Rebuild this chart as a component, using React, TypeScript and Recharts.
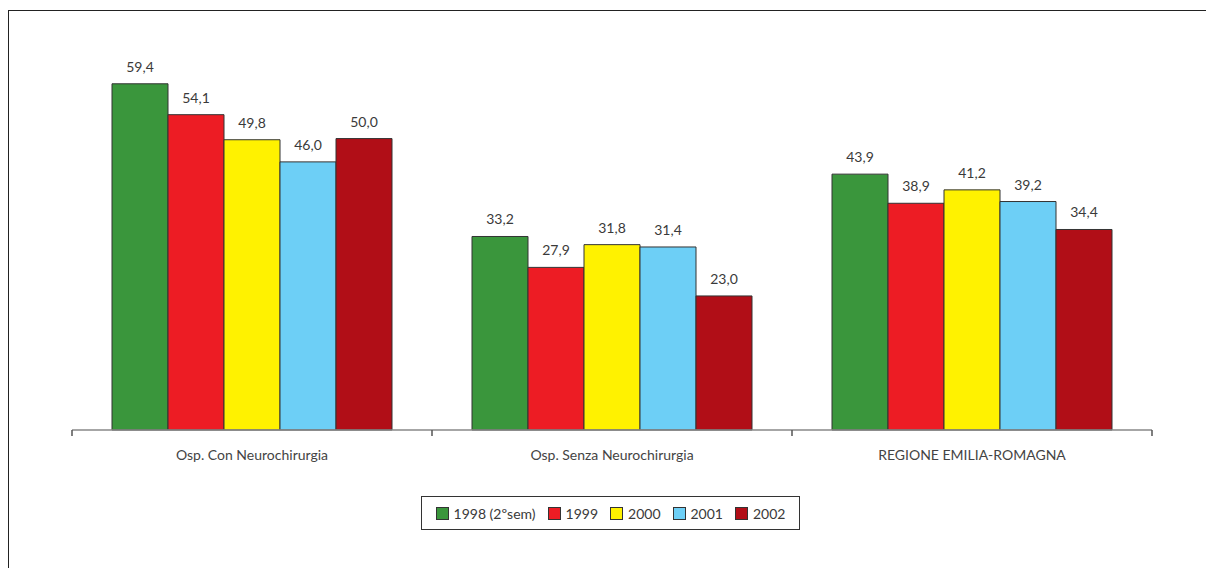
import React from 'react';
import { BarChart, Bar, XAxis, YAxis, LabelList } from 'recharts';

const categories = ['Osp. Con Neurochirurgia', 'Osp. Senza Neurochirurgia', 'REGIONE EMILIA-ROMAGNA'];
const v1998 = [59.4, 33.2, 43.9];
const v1999 = [54.1, 27.9, 38.9];
const v2000 = [49.8, 31.8, 41.2];
const v2001 = [46.0, 31.4, 39.2];
const v2002 = [50.0, 23.0, 34.4];

const seriesKeys = ['y1998', 'y1999', 'y2000', 'y2001', 'y2002'];
const seriesNames = ['1998 (2ºsem)', '1999', '2000', '2001', '2002'];
const seriesColors = ['#3a963c', '#ed1c24', '#fff200', '#6dcff6', '#b10e17'];

const data = categories.map((name, i) => ({
  name,
  y1998: v1998[i],
  y1999: v1999[i],
  y2000: v2000[i],
  y2001: v2001[i],
  y2002: v2002[i],
}));

const FONT = 'Lato, "Open Sans", sans-serif';

const fmt = (v: any) => Number(v).toFixed(1).replace('.', ',');

const Legend = () => (
  <div
    style={{
      position: 'absolute',
      left: 421,
      top: 496,
      width: 379,
      height: 34,
      border: '1px solid #333',
      display: 'flex',
      alignItems: 'center',
      justifyContent: 'center',
      fontFamily: FONT,
      fontSize: 14,
      color: '#3a3a3a',
      boxSizing: 'border-box',
    }}
  >
    {seriesNames.map((n, i) => (
      <div key={n} style={{ display: 'flex', alignItems: 'center', marginRight: i < 4 ? 12 : 0 }}>
        <span
          style={{
            display: 'inline-block',
            width: 13,
            height: 13,
            background: seriesColors[i],
            border: '1px solid #333',
            marginRight: 5,
            boxSizing: 'border-box',
          }}
        />
        <span>{n}</span>
      </div>
    ))}
  </div>
);

export default function App() {
  return (
    <div
      style={{
        position: 'absolute',
        left: 0,
        top: 0,
        width: 1206,
        height: 568,
        overflow: 'hidden',
        background: '#fff',
      }}
    >
      {/* outer frame, open to the right and bottom */}
      <div
        style={{
          position: 'absolute',
          left: 8,
          top: 10,
          width: 1400,
          height: 800,
          border: '1.5px solid #222',
        }}
      />
      <div style={{ position: 'absolute', left: 0, top: 0 }}>
        <BarChart
          width={1206}
          height={568}
          data={data}
          margin={{ top: 22, right: 54, left: 72, bottom: 108 }}
          barCategoryGap={40}
          barGap={0}
        >
          <XAxis
            dataKey="name"
            height={30}
            axisLine={{ stroke: '#888', strokeWidth: 1.5 }}
            tickLine={false}
            tick={{ fill: '#444', fontSize: 14, fontFamily: FONT }}
            tickMargin={14}
            interval={0}
          />
          <YAxis hide domain={[0, 70]} />
          {seriesKeys.map((k, i) => (
            <Bar
              key={k}
              dataKey={k}
              name={seriesNames[i]}
              fill={seriesColors[i]}
              stroke="#333"
              strokeWidth={1}
              isAnimationActive={false}
            >
              <LabelList
                dataKey={k}
                position="top"
                offset={12}
                formatter={fmt}
                style={{ fill: '#3a3a3a', fontSize: 14, fontFamily: FONT }}
              />
            </Bar>
          ))}
        </BarChart>
      </div>
      {/* category boundary ticks under the axis */}
      <svg style={{ position: 'absolute', left: 0, top: 0 }} width={1206} height={568}>
        {[72, 432, 792, 1152].map((x) => (
          <line key={x} x1={x} x2={x} y1={430} y2={436} stroke="#555" strokeWidth={1.5} />
        ))}
      </svg>
      <Legend />
    </div>
  );
}
